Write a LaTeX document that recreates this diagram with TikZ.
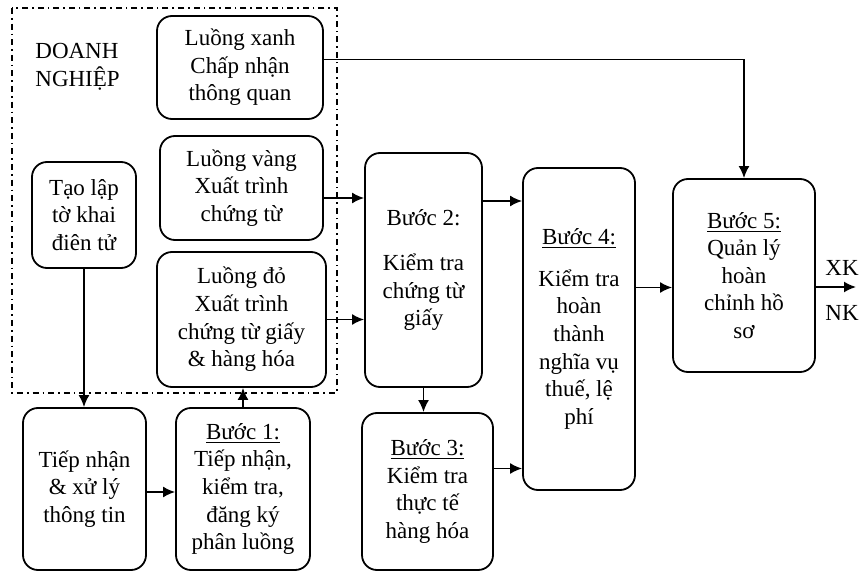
\documentclass[tikz,border=0pt]{standalone}
\usepackage{fontspec}
\setmainfont{Liberation Serif}
\usetikzlibrary{arrows.meta}

\begin{document}
\begin{tikzpicture}[x=0.5pt,y=-0.5pt]
\useasboundingbox (0,0) rectangle (862,572);

\draw[line width=0.8pt, dash dot] (12,8) rectangle (337,393);
\node[anchor=north west, align=left, inner sep=0pt, font=\fontsize{11.5}{13.8}\selectfont] (DN) at (35,43) {DOANH\\NGHIỆP};

\begin{scope}[every node/.style={rectangle,rounded corners=7.5pt,draw,line width=0.9pt,
              align=center,inner sep=0pt,font=\fontsize{11.5}{13.8}\selectfont}]
    \node[minimum width=83pt, minimum height=51.5pt] (Xanh) at (240,67.5) {Luồng xanh\\Chấp nhận\\thông quan};
    \node[minimum width=81.5pt, minimum height=52pt] (Vang) at (241.5,188) {Luồng vàng\\Xuất trình\\chứng từ};
    \node[minimum width=84.5pt, minimum height=67.5pt] (Do) at (241.5,319.5) {Luồng đỏ\\Xuất trình\\chứng từ giấy\\\& hàng hóa};
    \node[minimum width=52pt, minimum height=53pt] (TaoLap) at (84,215) {Tạo lập\\tờ khai\\điên tử};
    \node[minimum width=61.5pt, minimum height=81pt] (TiepNhan) at (84.5,489) {Tiếp nhận\\\& xử lý\\thông tin};
    \node[minimum width=67pt, minimum height=81pt] (B1) at (243,489) {\underline{Bước 1:}\\Tiếp nhận,\\kiểm tra,\\đăng ký\\phân luồng};
    \node[minimum width=58.5pt, minimum height=117pt] (B2) at (423.5,270) {Bước 2:\\[9pt]Kiểm tra\\chứng từ\\giấy};
    \node[minimum width=65.5pt, minimum height=78.5pt] (B3) at (427.5,491.5) {\underline{Bước 3:}\\Kiểm tra\\thực tế\\hàng hóa};
    \node[minimum width=56pt, minimum height=161pt] (B4) at (579,329) {\underline{Bước 4:}\\[7pt]Kiểm tra\\hoàn\\thành\\nghĩa vụ\\thuế, lệ\\phí};
    \node[minimum width=71pt, minimum height=96.5pt] (B5) at (744,275.5) {\underline{Bước 5:}\\Quản lý\\hoàn\\chỉnh hồ\\sơ};
\end{scope}

\coordinate (Ra) at (856,287);
\node[font=\fontsize{11.5}{13.8}\selectfont] (XK) at (842,268) {XK};
\node[font=\fontsize{11.5}{13.8}\selectfont] (NK) at (842,313) {NK};

\begin{scope}[>={Latex[length=6pt,width=5.5pt]}, line width=0.9pt]
    \draw[->] ([yshift=4pt]Xanh.east) -| (B5.north);
    \draw[->] ([yshift=-5pt]Vang.east) -- ([yshift=-5pt]Vang.east -| B2.west);
    \draw[->] (Do.east) -- (Do.east -| B2.west);
    \draw[->] ([yshift=-6.5pt]B2.east |- Vang.east) -- ([yshift=-6.5pt]B4.west |- Vang.east);
    \draw[->] (B2.south) -- (B2.south |- B3.north);
    \draw[->] ([yshift=11.5pt]B3.east) -- ([yshift=11.5pt]B3.east -| B4.west);
    \draw[->] ([yshift=-6pt]B5.west -| B4.east) -- ([yshift=-6pt]B5.west);
    \draw[->] (B5.east |- Ra) -- (Ra);
    \draw[->] (TaoLap.south) -- (TaoLap.south |- TiepNhan.north);
    \draw[->] ([yshift=-1.5pt]TiepNhan.east) -- ([yshift=-1.5pt]TiepNhan.east -| B1.west);
    \draw[->] (B1.north) -- (B1.north |- Do.south);
\end{scope}

\end{tikzpicture}
\end{document}
